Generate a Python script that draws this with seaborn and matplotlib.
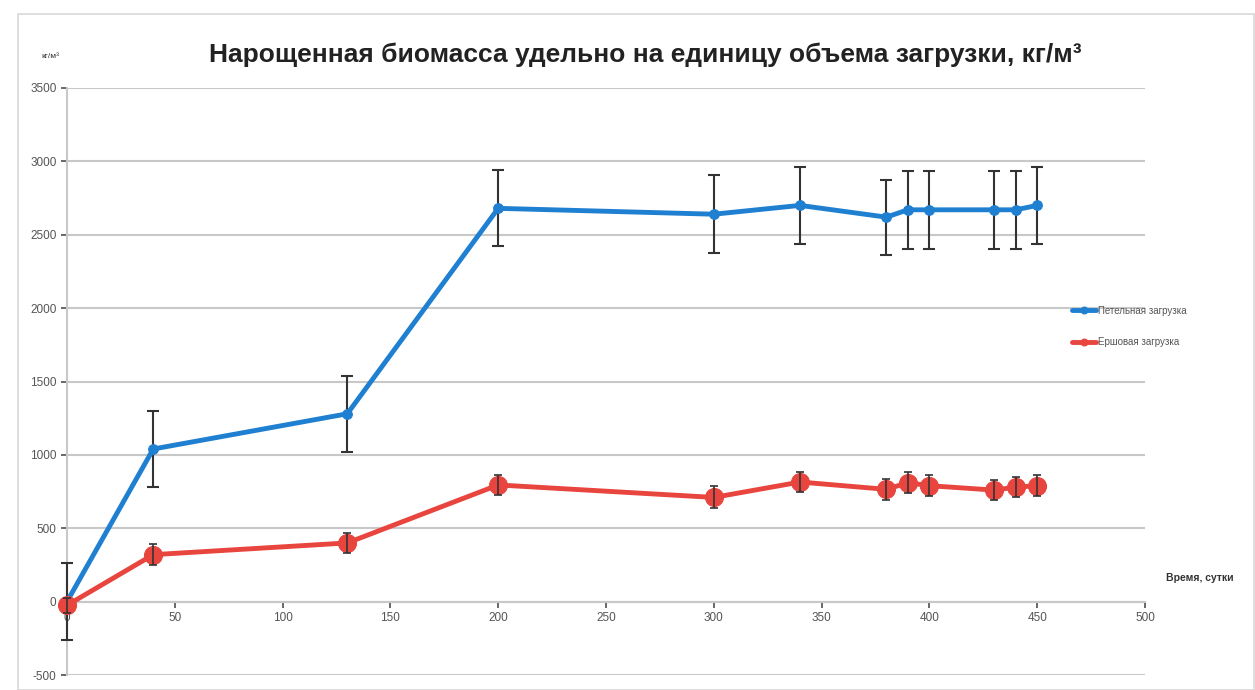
import matplotlib
matplotlib.use("Agg")
import matplotlib.pyplot as plt
import seaborn as sns
import pandas as pd
from matplotlib.patches import Rectangle

days = [0, 40, 130, 200, 300, 340, 380, 390, 400, 430, 440, 450]
loop_vals = [0, 1040, 1280, 2680, 2640, 2700, 2620, 2670, 2670, 2670, 2670, 2700]
loop_err = [260, 260, 260, 260, 265, 265, 255, 265, 265, 265, 265, 265]
brush_vals = [-25, 320, 400, 795, 710, 815, 765, 810, 790, 760, 780, 790]
brush_err = [50, 70, 70, 70, 75, 70, 70, 70, 70, 70, 70, 70]

series_names = ["Петельная загрузка", "Ершовая загрузка"]
title = "Нарощенная биомасса удельно на единицу объема загрузки, кг/м³"
y_unit = "кг/м³"
x_label = "Время, сутки"
x_ticks = list(range(0, 501, 50))
y_ticks = list(range(-500, 3501, 500))

sns.set_theme(style="white")
plt.rcParams['font.family'] = ['Liberation Sans', 'DejaVu Sans']
plt.rcParams['axes.unicode_minus'] = False

fig = plt.figure(figsize=(12.55, 6.9), dpi=100)
ax = fig.add_axes([67/1255, 1-675/690, (1145-67)/1255, (675-88)/690])

blue = "#1f7fd0"
red = "#e8453f"

df_loop = pd.DataFrame({"day": days, "val": loop_vals})
df_brush = pd.DataFrame({"day": days, "val": brush_vals})

eb1 = ax.errorbar(days, loop_vals, yerr=loop_err, fmt="none", ecolor="#333333",
                  elinewidth=1.5, capsize=4, capthick=1.5, zorder=2.7)
sns.lineplot(data=df_loop, x="day", y="val", ax=ax, color=blue, linewidth=3.5,
             marker="o", markersize=7, markeredgecolor=blue, label=series_names[0], zorder=3)
sns.lineplot(data=df_brush, x="day", y="val", ax=ax, color=red, linewidth=3.5,
             marker="o", markersize=13, markeredgecolor=red, label=series_names[1], zorder=4)
eb2 = ax.errorbar(days, brush_vals, yerr=brush_err, fmt="none", ecolor="#333333",
                  elinewidth=1.2, capsize=3, capthick=1.2, zorder=5)
for eb in (eb1, eb2):
    for art in list(eb.lines[1]) + list(eb.lines[2]):
        art.set_clip_on(False)
for ln in ax.lines:
    ln.set_clip_on(False)

ax.set_xlim(0, 500)
ax.set_ylim(-500, 3500)
ax.set_xticks(x_ticks)
ax.set_yticks(y_ticks)
ax.tick_params(axis="both", labelsize=8.5, colors="#555555", length=4, direction="out")
ax.tick_params(axis="x", bottom=True)
ax.tick_params(axis="y", left=True)
ax.yaxis.grid(True, color="#c8c8c8", linewidth=1.5)
ax.xaxis.grid(False)
ax.set_xlabel("")
ax.set_ylabel("")
for s in ["top", "right"]:
    ax.spines[s].set_visible(False)
ax.spines["bottom"].set_position(("data", 0))
ax.spines["bottom"].set_color("#c8c8c8")
ax.spines["bottom"].set_linewidth(1.5)
ax.spines["left"].set_color("#c8c8c8")
ax.spines["left"].set_linewidth(1.5)

leg = ax.legend(loc="upper left", bbox_to_anchor=(1068/1255, 1-302/690),
                bbox_transform=fig.transFigure, frameon=False, fontsize=7,
                handlelength=2.5, labelspacing=2.2, borderaxespad=0, handletextpad=0.2)
for t in leg.get_texts():
    t.set_color("#555555")
for h in leg.legend_handles:
    h.set_markersize(5)

fig.text(645/1255, 1-55/690, title, ha="center", va="center", fontsize=19,
         fontweight="bold", color="#222222")
fig.text(50/1255, 1-57/690, y_unit, ha="center", va="center", fontsize=6, color="#333333")
fig.text(1200/1255, 1-578/690, x_label, ha="center", va="center", fontsize=7.5,
         fontweight="bold", color="#333333")

fig.add_artist(Rectangle((18/1255, 0), 1-18/1255 - 0.001, 1-14/690, transform=fig.transFigure,
                         fill=False, edgecolor="#d8d8d8", linewidth=1.2))

fig.savefig("out.png", dpi=100)
